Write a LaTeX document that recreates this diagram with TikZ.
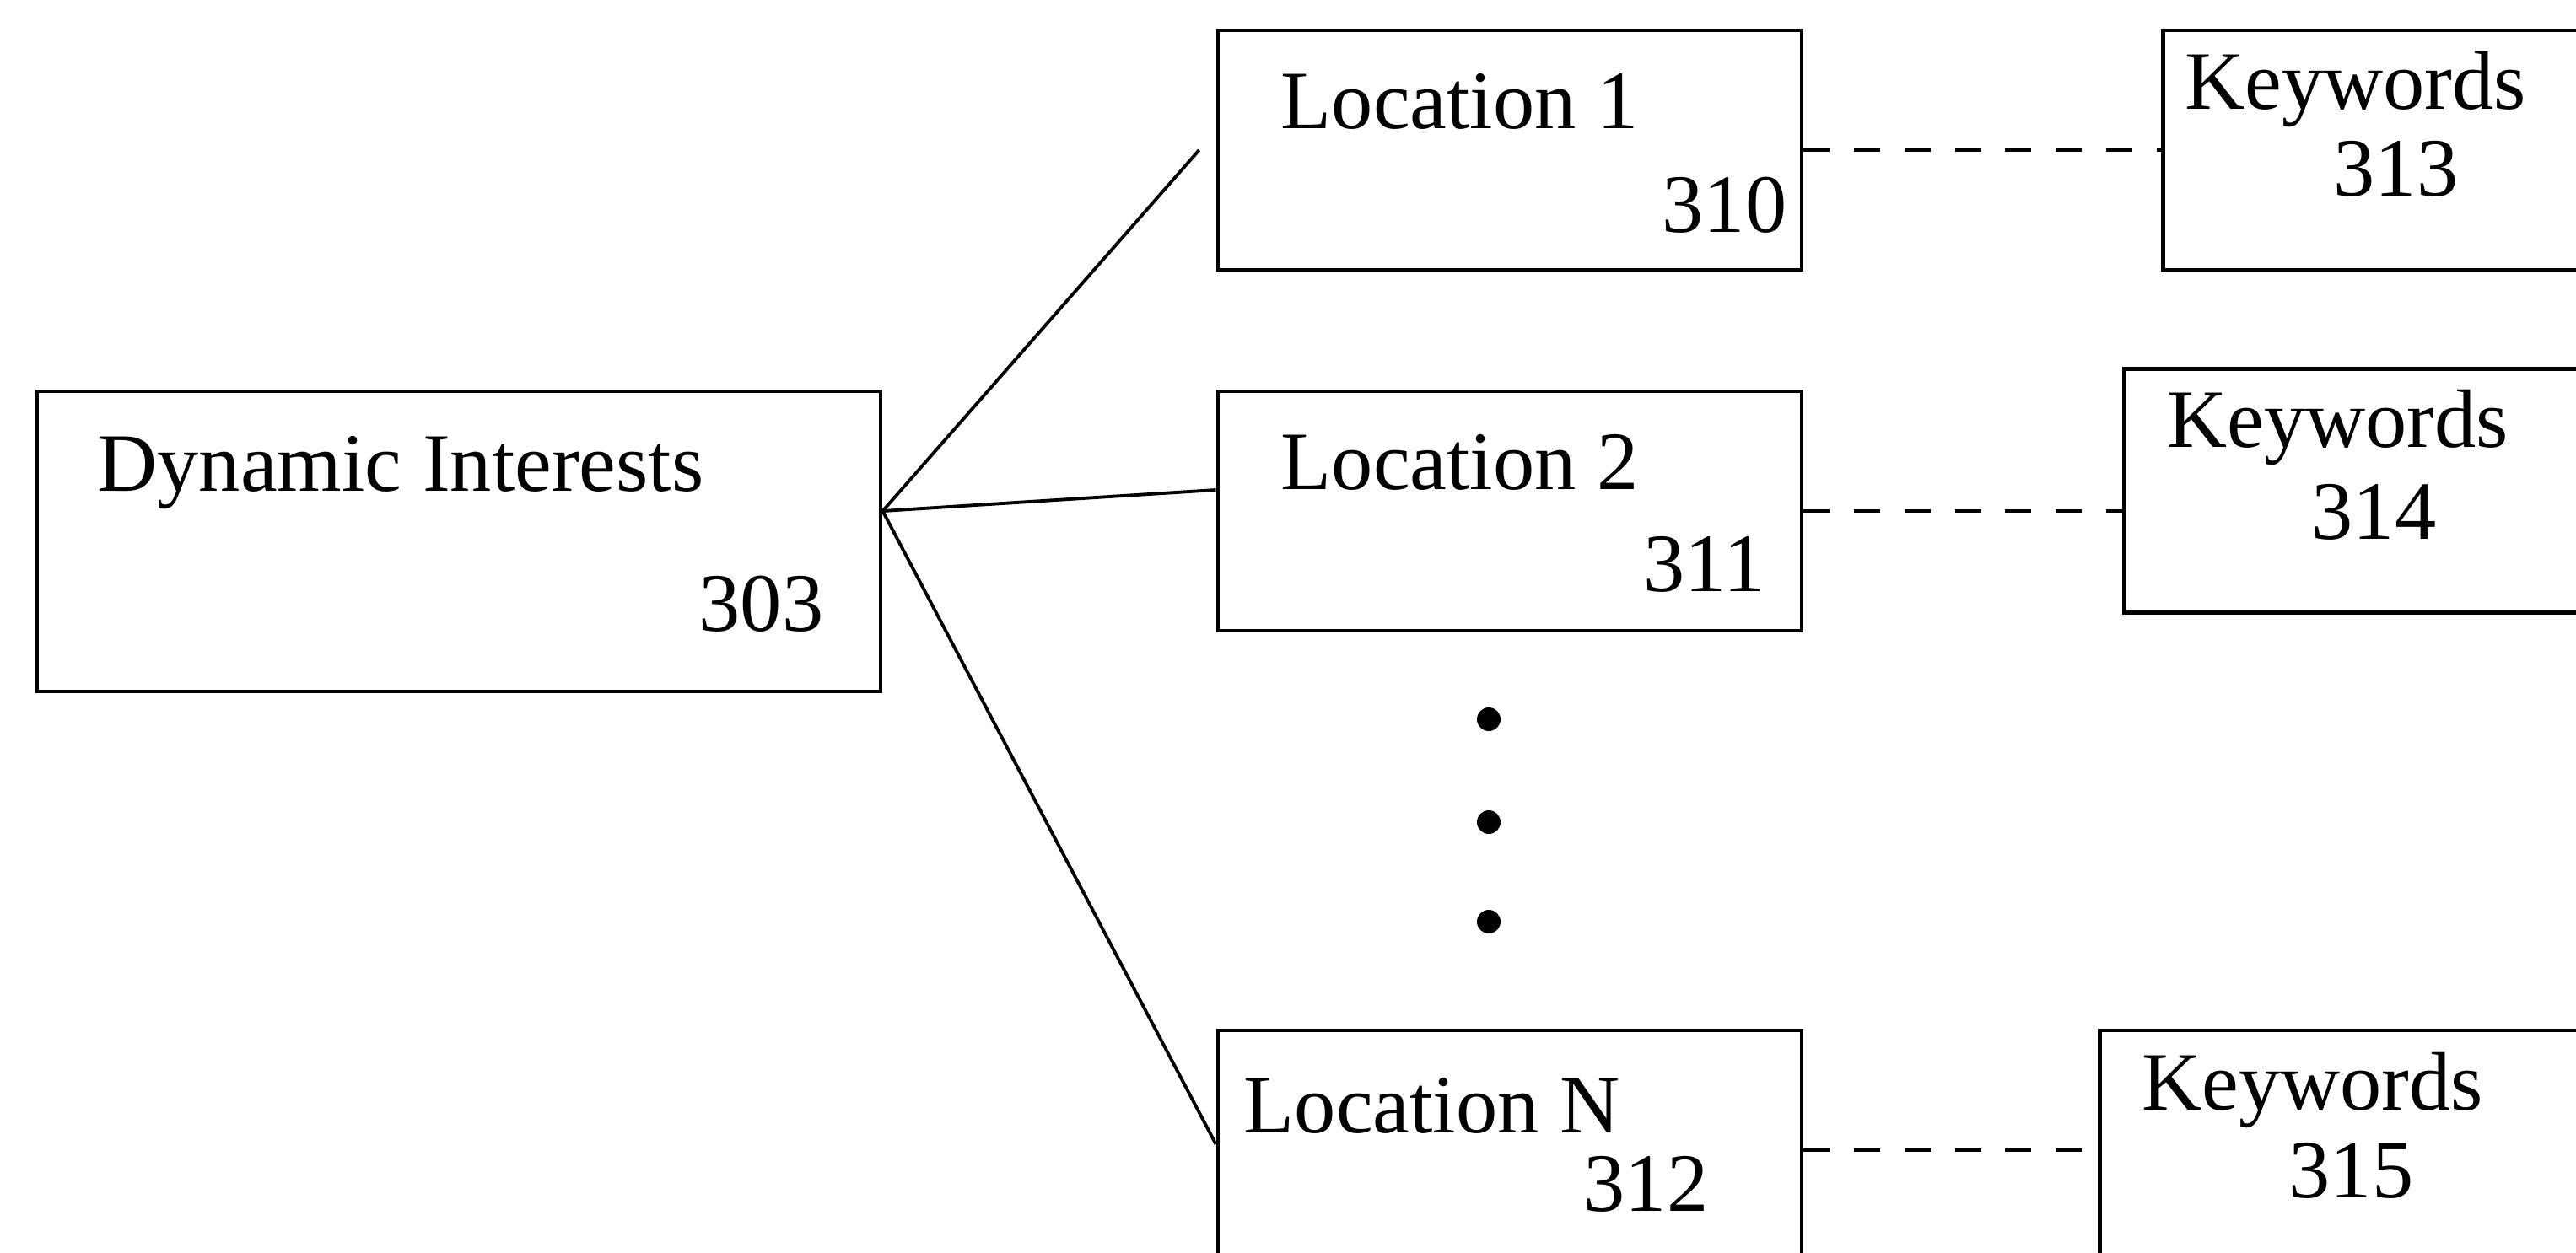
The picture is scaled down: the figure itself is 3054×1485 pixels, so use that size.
\documentclass[tikz,border=0pt]{standalone}
\usepackage{fontspec}
\setmainfont{Liberation Serif}
\usepackage{tikz}
\usetikzlibrary{calc}

\begin{document}
\begin{tikzpicture}[x=0.1mm,y=-0.1mm,
	box/.style={draw,line width=1.4pt,inner sep=0pt,minimum width=6.92cm,minimum height=2.84cm},
	txt/.style={anchor=base west,inner sep=0pt,font=\fontsize{28}{30}\selectfont},
	link/.style={line width=1.1pt},
	dashlink/.style={line width=1.3pt,dash pattern=on 8.8pt off 8.2pt}]
	\clip (0,0) rectangle (3054,1485);
	
	\node[box,minimum width=10cm,minimum height=3.56cm] (di) at (544,642) {};
	\node[box] (loc1) at (1790,178) {};
	\node[box] (loc2) at (1790,606) {};
	\node[box] (locN) at (1790,1364) {};
	\node[box,anchor=west,minimum width=7cm] (kw1) at (2562,178) {};
	\node[box,anchor=west,minimum width=7cm,minimum height=2.89cm] (kw2) at (2516,582) {};
	\node[box,anchor=west,minimum width=7cm] (kwN) at (2487,1364) {};
	
	\node[txt] (ditxt) at (115,582) {Dynamic Interests};
	\node[txt] (dinum) at (828,748) {303};
	\node[txt] (loc1txt) at (1518,152) {Location 1};
	\node[txt] (loc1num) at (1970,275) {310};
	\node[txt] (loc2txt) at (1518,580) {Location 2};
	\node[txt] (loc2num) at (1948,701) {311};
	\node[txt] (locNtxt) at (1474,1343) {Location N};
	\node[txt] (locNnum) at (1877,1436) {312};
	\node[txt] (kw1txt) at (2590,129) {Keywords};
	\node[txt] (kw1num) at (2766,232) {313};
	\node[txt] (kw2txt) at (2569,530) {Keywords};
	\node[txt] (kw2num) at (2740,639) {314};
	\node[txt] (kwNtxt) at (2539,1316) {Keywords};
	\node[txt] (kwNnum) at (2713,1420) {315};
	
	\coordinate (j) at (di.east |- loc2.west);
	\draw[link] (j)--([xshift=-0.2cm]loc1.west);
	\draw[link] (j)--([yshift=0.25cm]loc2.west);
	\draw[link] (j)--([yshift=0.07cm]locN.west);
	
	\draw[dashlink] (loc1.east)--(kw1.west |- loc1.east);
	\draw[dashlink] (loc2.east)--(kw2.west |- loc2.east);
	\draw[dashlink] (locN.east)--(kwN.west);
	
	\foreach \y in {853,975,1093}{
		\fill (1765,\y) circle (1.4mm);
	}
\end{tikzpicture}
\end{document}
